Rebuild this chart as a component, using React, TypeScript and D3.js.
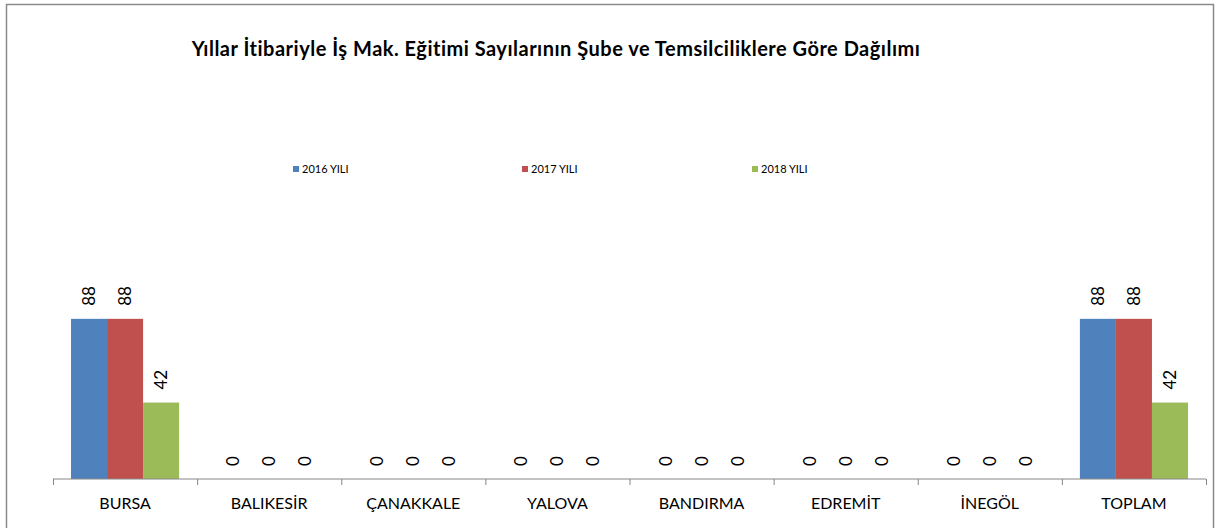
import React from "react";
import * as d3 from "d3";

const categories = ["BURSA", "BALIKESİR", "ÇANAKKALE", "YALOVA", "BANDIRMA", "EDREMİT", "İNEGÖL", "TOPLAM"];
const seriesNames = ["2016 YILI", "2017 YILI", "2018 YILI"];
const values2016 = [88, 0, 0, 0, 0, 0, 0, 88];
const values2017 = [88, 0, 0, 0, 0, 0, 0, 88];
const values2018 = [42, 0, 0, 0, 0, 0, 0, 42];
const seriesValues = [values2016, values2017, values2018];
const colors = ["#4F81BD", "#C0504D", "#9BBB59"];
const title = "Yıllar İtibariyle İş Mak. Eğitimi Sayılarının Şube ve Temsilciliklere Göre Dağılımı";

const W = 1217;
const H = 528;
const FONT = "Lato, 'Open Sans', sans-serif";

export default function App() {
  const x0 = d3.scaleBand<string>().domain(categories).range([53, 1206]).paddingInner(0).paddingOuter(0);
  const x1 = d3.scaleBand<string>().domain(seriesNames).range([0, x0.bandwidth()]).paddingInner(0).paddingOuter(0.5);
  const y = d3.scaleLinear().domain([0, 100]).range([479, 297]);
  const ticks = categories.map((c) => x0(c) as number).concat([1206]);
  const legendX = [293, 522, 752];

  return (
    <svg width={W} height={H} style={{ position: "absolute", left: 0, top: 0, background: "#fff" }}>
      <rect x={0} y={0} width={W} height={H} fill="#fff" />
      <path d={`M6.5,${H} V4.5 H1213.5 V${H}`} fill="none" stroke="#8a8a8a" strokeWidth={1.5} />
      <text x={556} y={56} textAnchor="middle" fontFamily={FONT} fontWeight="bold" fontSize={20} letterSpacing={0.5} fill="#000">
        {title}
      </text>
      {seriesNames.map((s, i) => (
        <g key={s}>
          <rect x={legendX[i]} y={166} width={6} height={6} fill={colors[i]} />
          <text x={legendX[i] + 9} y={172.5} fontFamily={FONT} fontSize={11} fill="#000">
            {s}
          </text>
        </g>
      ))}
      {categories.map((c, ci) => (
        <g key={c} transform={`translate(${x0(c)},0)`}>
          {seriesNames.map((s, si) => {
            const v = seriesValues[si][ci];
            const bx = x1(s) as number;
            const bw = x1.bandwidth();
            const cx = bx + bw / 2;
            const top = y(v);
            return (
              <g key={s}>
                {v > 0 && <rect x={bx} y={top} width={bw} height={y(0) - top} fill={colors[si]} />}
                <text
                  transform={`translate(${cx + 6},${top - 13}) rotate(-90)`}
                  fontFamily={FONT}
                  fontSize={17}
                  fill="#000"
                >
                  {v}
                </text>
              </g>
            );
          })}
          <text x={x0.bandwidth() / 2} y={509} textAnchor="middle" fontFamily={FONT} fontSize={16} fill="#000">
            {c}
          </text>
        </g>
      ))}
      <line x1={53} x2={1206} y1={479} y2={479} stroke="#868686" strokeWidth={1} />
      {ticks.map((t, i) => (
        <line key={i} x1={t + 0.5} x2={t + 0.5} y1={479} y2={485} stroke="#868686" strokeWidth={1} />
      ))}
    </svg>
  );
}
